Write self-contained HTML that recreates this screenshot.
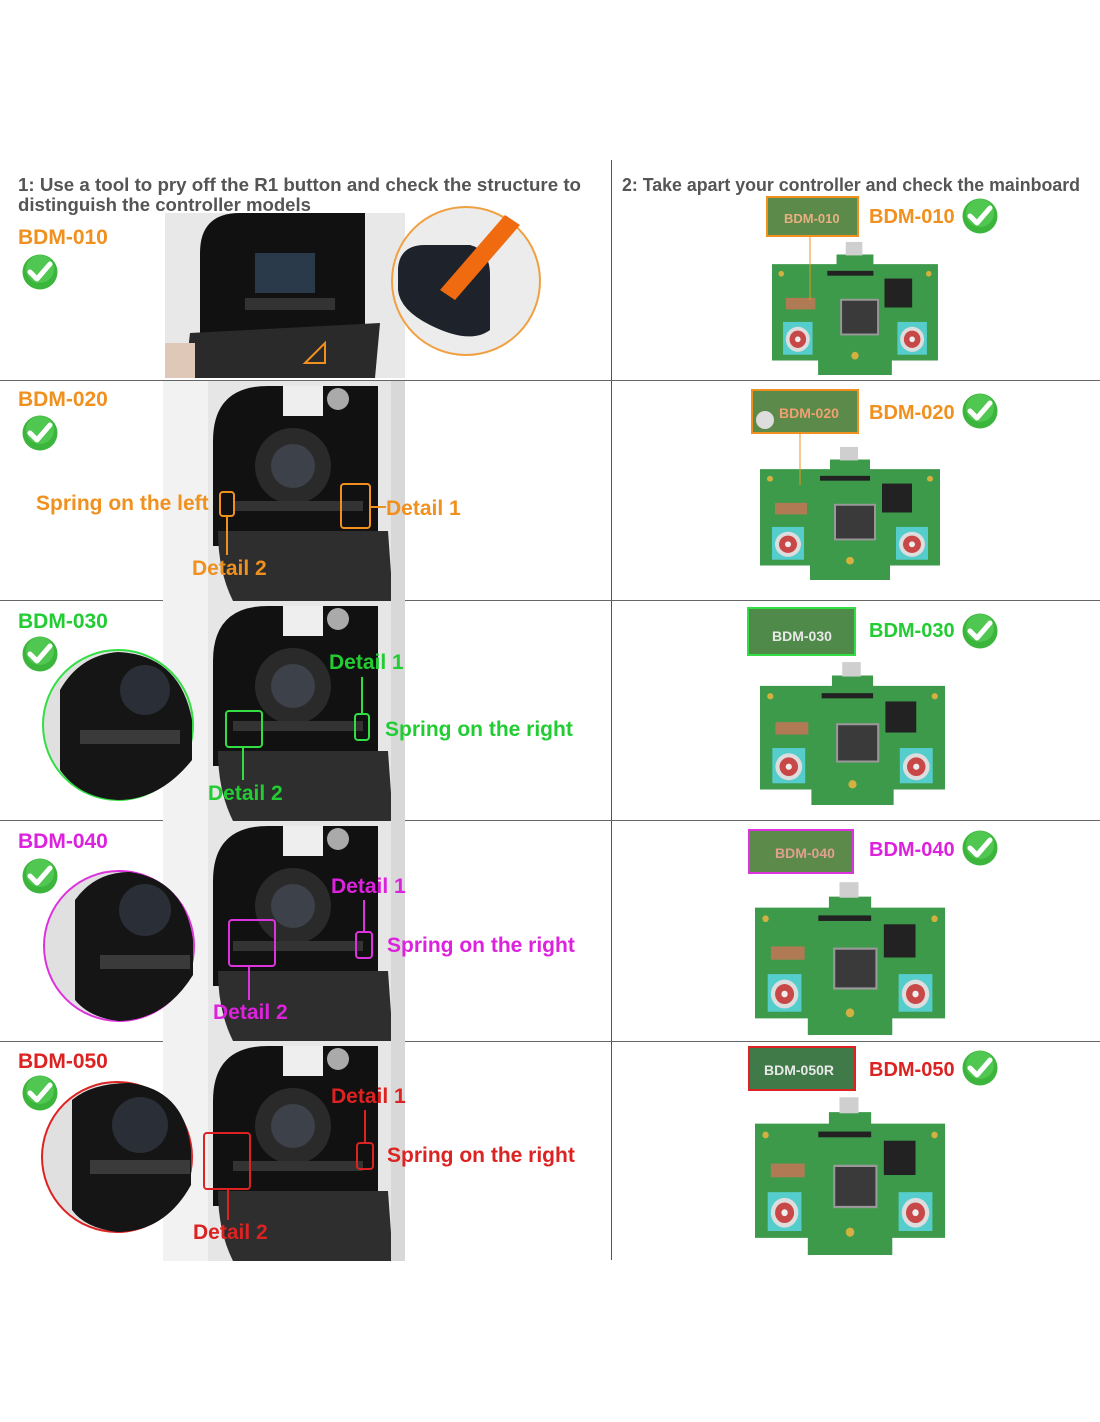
<!DOCTYPE html>
<html><head><meta charset="utf-8"><style>
html,body{margin:0;padding:0;background:#fff}
svg{display:block}
text{font-family:"Liberation Sans",sans-serif;font-weight:bold}
</style></head><body>
<svg width="1100" height="1422" viewBox="0 0 1100 1422" xmlns="http://www.w3.org/2000/svg">
<defs>
<g id="chk"><circle cx="18" cy="18" r="17.5" fill="#3bb53b"/><circle cx="18" cy="15" r="14" fill="#5fd35f" opacity=".6"/><path d="M8,18 L15,25 L28,10" stroke="#fff" stroke-width="5" fill="none" stroke-linecap="round" stroke-linejoin="round"/></g>
<g id="pcb">
<path d="M0,25 L70,25 L70,15 L110,15 L110,25 L180,25 L180,125 L130,125 L130,140 L50,140 L50,125 L0,125 Z" fill="#3d9a4a"/>
<rect x="80" y="2" width="18" height="14" fill="#cfcfcf"/>
<rect x="60" y="32" width="50" height="5" fill="#222"/>
<rect x="122" y="40" width="30" height="30" fill="#222"/>
<rect x="75" y="62" width="40" height="36" fill="#3a3a3a" stroke="#999" stroke-width="2"/>
<rect x="15" y="60" width="32" height="12" fill="#b07a55"/>
<rect x="12" y="85" width="32" height="34" fill="#55cdcd"/><circle cx="28" cy="103" r="13" fill="#ddd"/><circle cx="28" cy="103" r="9" fill="#c84848"/><circle cx="28" cy="103" r="3" fill="#eee"/>
<rect x="136" y="85" width="32" height="34" fill="#55cdcd"/><circle cx="152" cy="103" r="13" fill="#ddd"/><circle cx="152" cy="103" r="9" fill="#c84848"/><circle cx="152" cy="103" r="3" fill="#eee"/>
<circle cx="10" cy="35" r="3" fill="#d4b040"/><circle cx="170" cy="35" r="3" fill="#d4b040"/><circle cx="90" cy="120" r="4" fill="#d4b040"/>
</g>
<g id="photo">
<rect x="0" y="0" width="242" height="220" fill="#e6e6e6"/>
<rect x="0" y="0" width="45" height="220" fill="#f2f2f2"/>
<path d="M50,60 Q50,5 105,5 L215,5 L215,165 L50,165 Z" fill="#111"/>
<rect x="120" y="5" width="40" height="30" fill="#eee"/>
<circle cx="175" cy="18" r="11" fill="#aaa"/>
<path d="M55,150 L225,150 L230,220 L70,220 Q55,190 55,150 Z" fill="#2e2e2e"/>
<circle cx="130" cy="85" r="38" fill="#2a2a2a"/><circle cx="130" cy="85" r="22" fill="#3c414a"/>
<rect x="70" y="120" width="130" height="10" fill="#333"/>
<rect x="228" y="0" width="14" height="220" fill="#d8d8d8"/>
</g>
</defs>

<line x1="611.5" y1="160" x2="611.5" y2="1260" stroke="#555" stroke-width="1"/>
<line x1="0" y1="380.5" x2="1100" y2="380.5" stroke="#666"/>
<line x1="0" y1="600.5" x2="1100" y2="600.5" stroke="#666"/>
<line x1="0" y1="820.5" x2="1100" y2="820.5" stroke="#666"/>
<line x1="0" y1="1041.5" x2="1100" y2="1041.5" stroke="#666"/>

<text x="18" y="191" font-size="18" fill="#555" textLength="563" lengthAdjust="spacingAndGlyphs">1: Use a tool to pry off the R1 button and check the structure to</text>
<text x="18" y="211" font-size="18" fill="#555" textLength="293" lengthAdjust="spacingAndGlyphs">distinguish the controller models</text>
<text x="622" y="191" font-size="18" fill="#555" textLength="458" lengthAdjust="spacingAndGlyphs">2: Take apart your controller and check the mainboard</text>

<!-- ROW 1 -->
<text x="18" y="244" font-size="21" fill="#f0901e">BDM-010</text>
<use href="#chk" x="22" y="254"/>
<g transform="translate(165,213)">
<rect width="240" height="165" fill="#e8e8e8"/>
<path d="M35,40 Q35,0 75,0 L200,0 L200,145 L35,145 Z" fill="#111"/>
<rect x="90" y="40" width="60" height="40" fill="#2a3a4a"/>
<rect x="80" y="85" width="90" height="12" fill="#333"/>
<path d="M25,120 L215,110 L210,165 L20,165 Z" fill="#2a2a2a"/>
<path d="M140,150 L160,130 L160,150 Z" fill="none" stroke="#f0901e" stroke-width="2"/>
<rect x="0" y="130" width="30" height="35" fill="#e0c8b8"/>
</g>
<circle cx="466" cy="281" r="74" fill="#ececec" stroke="#f0a040" stroke-width="2"/>
<path d="M398,268 Q400,245 425,245 L470,245 Q490,250 490,275 L490,330 Q470,345 430,325 Q400,310 398,290 Z" fill="#1e222a"/>
<path d="M440,290 L505,215 L520,225 L455,300 Z" fill="#f06a10"/>

<use href="#pcb" transform="translate(772,240) scale(0.922,0.964)"/>
<rect x="767" y="197" width="91" height="39" fill="#5c8a4a" stroke="#f0901e" stroke-width="2"/>
<text x="784" y="223" font-size="13" fill="#e8b080">BDM-010</text>
<line x1="810" y1="236" x2="810" y2="300" stroke="#f0901e"/>
<text x="869" y="223" font-size="20" fill="#f0901e">BDM-010</text>
<use href="#chk" x="962" y="198"/>

<!-- ROW 2 -->
<text x="18" y="406" font-size="21" fill="#f0901e">BDM-020</text>
<use href="#chk" x="22" y="415"/>
<use href="#photo" x="163" y="381"/>
<rect x="220" y="492" width="14" height="24" rx="3" fill="none" stroke="#f0901e" stroke-width="2"/>
<rect x="341" y="484" width="29" height="44" rx="3" fill="none" stroke="#f0901e" stroke-width="2"/>
<line x1="370" y1="507" x2="386" y2="507" stroke="#f0901e" stroke-width="2"/>
<line x1="227" y1="516" x2="227" y2="555" stroke="#f0901e" stroke-width="2"/>
<text x="36" y="510" font-size="21" fill="#f0901e">Spring on the left</text>
<text x="386" y="515" font-size="21" fill="#f0901e">Detail 1</text>
<text x="192" y="575" font-size="21" fill="#f0901e">Detail 2</text>

<use href="#pcb" transform="translate(760,445) scale(1,0.964)"/>
<rect x="752" y="390" width="106" height="43" fill="#5c8a4a" stroke="#f0901e" stroke-width="2"/>
<circle cx="765" cy="420" r="9" fill="#ddd"/>
<text x="779" y="418" font-size="14" fill="#f0a070">BDM-020</text>
<line x1="800" y1="433" x2="800" y2="485" stroke="#f0901e"/>
<text x="869" y="419" font-size="20" fill="#f0901e">BDM-020</text>
<use href="#chk" x="962" y="393"/>

<!-- ROW 3 -->
<text x="18" y="628" font-size="21" fill="#22cc33">BDM-030</text>
<use href="#photo" x="163" y="601"/>
<circle cx="118" cy="725" r="75" fill="#e0e0e0" stroke="#33dd44" stroke-width="2"/>
<path d="M60,690 Q80,655 118,652 Q180,655 192,720 L192,760 Q160,800 118,800 Q80,798 60,770 Z" fill="#151515"/>
<circle cx="145" cy="690" r="25" fill="#2a2e36"/>
<rect x="80" y="730" width="100" height="14" fill="#3a3a3a"/>
<use href="#chk" x="22" y="636"/>
<rect x="226" y="711" width="36" height="36" rx="3" fill="none" stroke="#33dd44" stroke-width="2"/>
<rect x="355" y="714" width="14" height="26" rx="3" fill="none" stroke="#33dd44" stroke-width="2"/>
<line x1="362" y1="677" x2="362" y2="714" stroke="#33dd44" stroke-width="2"/>
<line x1="243" y1="747" x2="243" y2="780" stroke="#33dd44" stroke-width="2"/>
<text x="329" y="669" font-size="21" fill="#22cc33">Detail 1</text>
<text x="385" y="736" font-size="21" fill="#22cc33">Spring on the right</text>
<text x="208" y="800" font-size="21" fill="#22cc33">Detail 2</text>

<use href="#pcb" transform="translate(760,660) scale(1.028,1.036)"/>
<rect x="748" y="608" width="107" height="47" fill="#4f8a4a" stroke="#33dd44" stroke-width="2"/>
<text x="772" y="641" font-size="14" fill="#e8e8e8">BDM-030</text>
<text x="869" y="637" font-size="20" fill="#22cc33">BDM-030</text>
<use href="#chk" x="962" y="613"/>

<!-- ROW 4 -->
<text x="18" y="848" font-size="21" fill="#dd22dd">BDM-040</text>
<use href="#photo" x="163" y="821"/>
<circle cx="119" cy="946" r="75" fill="#e0e0e0" stroke="#dd33dd" stroke-width="2"/>
<path d="M75,900 Q95,872 130,872 Q185,880 193,940 L193,975 Q165,1020 119,1021 Q90,1018 75,1000 Z" fill="#151515"/>
<circle cx="145" cy="910" r="26" fill="#2a2e36"/>
<rect x="100" y="955" width="90" height="14" fill="#3a3a3a"/>
<use href="#chk" x="22" y="858"/>
<rect x="229" y="920" width="46" height="46" rx="3" fill="none" stroke="#dd33dd" stroke-width="2"/>
<rect x="356" y="932" width="16" height="26" rx="3" fill="none" stroke="#dd33dd" stroke-width="2"/>
<line x1="364" y1="900" x2="364" y2="932" stroke="#dd33dd" stroke-width="2"/>
<line x1="249" y1="966" x2="249" y2="1000" stroke="#dd33dd" stroke-width="2"/>
<text x="331" y="893" font-size="21" fill="#dd22dd">Detail 1</text>
<text x="387" y="952" font-size="21" fill="#dd22dd">Spring on the right</text>
<text x="213" y="1019" font-size="21" fill="#dd22dd">Detail 2</text>

<use href="#pcb" transform="translate(755,880) scale(1.056,1.107)"/>
<rect x="749" y="830" width="104" height="43" fill="#5c8a4a" stroke="#dd33dd" stroke-width="2"/>
<text x="775" y="858" font-size="14" fill="#e0a090">BDM-040</text>
<text x="869" y="856" font-size="20" fill="#dd22dd">BDM-040</text>
<use href="#chk" x="962" y="830"/>

<!-- ROW 5 -->
<text x="18" y="1068" font-size="21" fill="#dd2222">BDM-050</text>
<use href="#photo" x="163" y="1041"/>
<circle cx="117" cy="1157" r="75" fill="#e0e0e0" stroke="#dd2222" stroke-width="2"/>
<path d="M72,1100 Q92,1083 130,1083 Q185,1090 191,1150 L191,1185 Q165,1232 117,1232 Q85,1228 72,1210 Z" fill="#151515"/>
<circle cx="140" cy="1125" r="28" fill="#2a2e36"/>
<rect x="90" y="1160" width="100" height="14" fill="#3a3a3a"/>
<use href="#chk" x="22" y="1075"/>
<rect x="204" y="1133" width="46" height="56" rx="3" fill="none" stroke="#dd2222" stroke-width="2"/>
<rect x="357" y="1143" width="16" height="26" rx="3" fill="none" stroke="#dd2222" stroke-width="2"/>
<line x1="365" y1="1110" x2="365" y2="1143" stroke="#dd2222" stroke-width="2"/>
<line x1="228" y1="1189" x2="228" y2="1220" stroke="#dd2222" stroke-width="2"/>
<text x="331" y="1103" font-size="21" fill="#dd2222">Detail 1</text>
<text x="387" y="1162" font-size="21" fill="#dd2222">Spring on the right</text>
<text x="193" y="1239" font-size="21" fill="#dd2222">Detail 2</text>

<use href="#pcb" transform="translate(755,1095) scale(1.056,1.143)"/>
<rect x="749" y="1047" width="106" height="43" fill="#3f7a48" stroke="#dd2222" stroke-width="2"/>
<text x="764" y="1075" font-size="14" fill="#e8e8e8">BDM-050R</text>
<text x="869" y="1076" font-size="20" fill="#dd2222">BDM-050</text>
<use href="#chk" x="962" y="1050"/>
</svg>
</body></html>
